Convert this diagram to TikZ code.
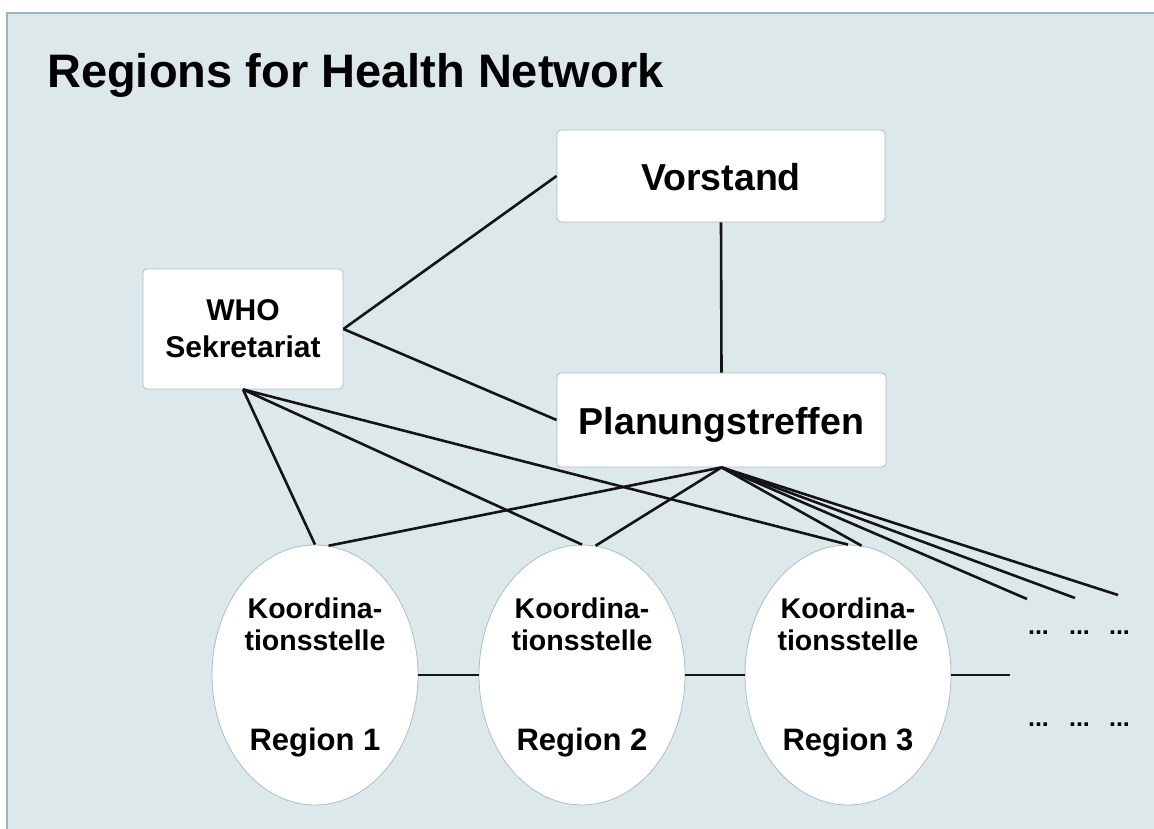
\documentclass[tikz,border=0pt]{standalone}
\usepackage{fontspec}
\setmainfont{Liberation Sans}
\usetikzlibrary{shapes,positioning,calc}

\definecolor{panelbg}{HTML}{DDE8EB}
\definecolor{panelline}{HTML}{9BB4BD}
\definecolor{boxline}{HTML}{A9C0C8}

\tikzset{
    panel/.style={fill=panelbg, draw=panelline, line width=1.8pt},
    unit/.style={rectangle, rounded corners=4pt, fill=white, draw=boxline, line width=0.8pt,
        inner sep=0pt, font=\bfseries\fontsize{37.5}{44}\selectfont},
    region/.style={ellipse, fill=white, draw=boxline, line width=0.8pt, inner sep=0pt,
        minimum width=206pt, minimum height=260pt},
    rtext/.style={inner sep=0pt, anchor=base, font=\bfseries\fontsize{28.5}{34}\selectfont},
    rname/.style={inner sep=0pt, anchor=base, font=\bfseries\fontsize{31}{37}\selectfont},
    more/.style={inner sep=0pt, anchor=base, font=\bfseries\fontsize{25}{30}\selectfont},
    link/.style={line width=2.6pt, black!92}
}

\begin{document}
\begin{tikzpicture}[x=1pt, y=-1pt]
    \clip (0,0) rectangle (1154,829);
    \draw[panel] (7,13) rectangle (1170,845);

    \node[inner sep=0pt, anchor=base west, font=\bfseries\fontsize{47}{56}\selectfont] (title) at (47,88) {Regions for Health Network};

    \node[unit, minimum width=328pt, minimum height=92pt, text height=30pt, text depth=-4pt] (vorstand) at (721,176) {Vorstand};
    \node[unit, minimum width=329pt, minimum height=94pt, text height=28pt, text depth=-2pt] (planung) at (721.5,420) {Planungstreffen};
    \node[unit, minimum width=200pt, minimum height=120pt, align=center,
        font=\bfseries\fontsize{30}{37}\selectfont] (who) at (243,329) {WHO\\Sekretariat};

    \foreach \i/\x in {1/315,2/582,3/848} {
        \node[region] (r\i) at (\x,675) {};
        \node[rtext] (k\i) at (\x,618) {Koordina-};
        \node[rtext] (t\i) at (\x,650) {tionsstelle};
        \node[rname] (n\i) at (\x,750) {Region \i};
    }

    \foreach \j/\y in {a/634.5,b/726.5} {
        \node[more] (\j1) at (1038.5,\y) {...};
        \node[more] (\j2) at (1079.5,\y) {...};
        \node[more] (\j3) at (1119.5,\y) {...};
    }

    \coordinate (e1) at (1027,599);
    \coordinate (e2) at (1075,598);
    \coordinate (e3) at (1118,595);
    \coordinate (e4) at (1010,675);

    \draw[link] (who.east) -- (vorstand.west);
    \draw[link] (who.east) -- (planung.west);
    \draw[link] (vorstand.south) -- (planung.north);
    \foreach \i in {1,2,3} {
        \draw[link] (who.south) -- (r\i.north);
        \draw[link] (planung.south) -- (r\i.84);
    }
    \foreach \e in {e1,e2,e3}
        \draw[link] (planung.south) -- (\e);
    \draw[link] (r1.east) -- (r2.west);
    \draw[link] (r2.east) -- (r3.west);
    \draw[link] (r3.east) -- (e4);
\end{tikzpicture}
\end{document}
